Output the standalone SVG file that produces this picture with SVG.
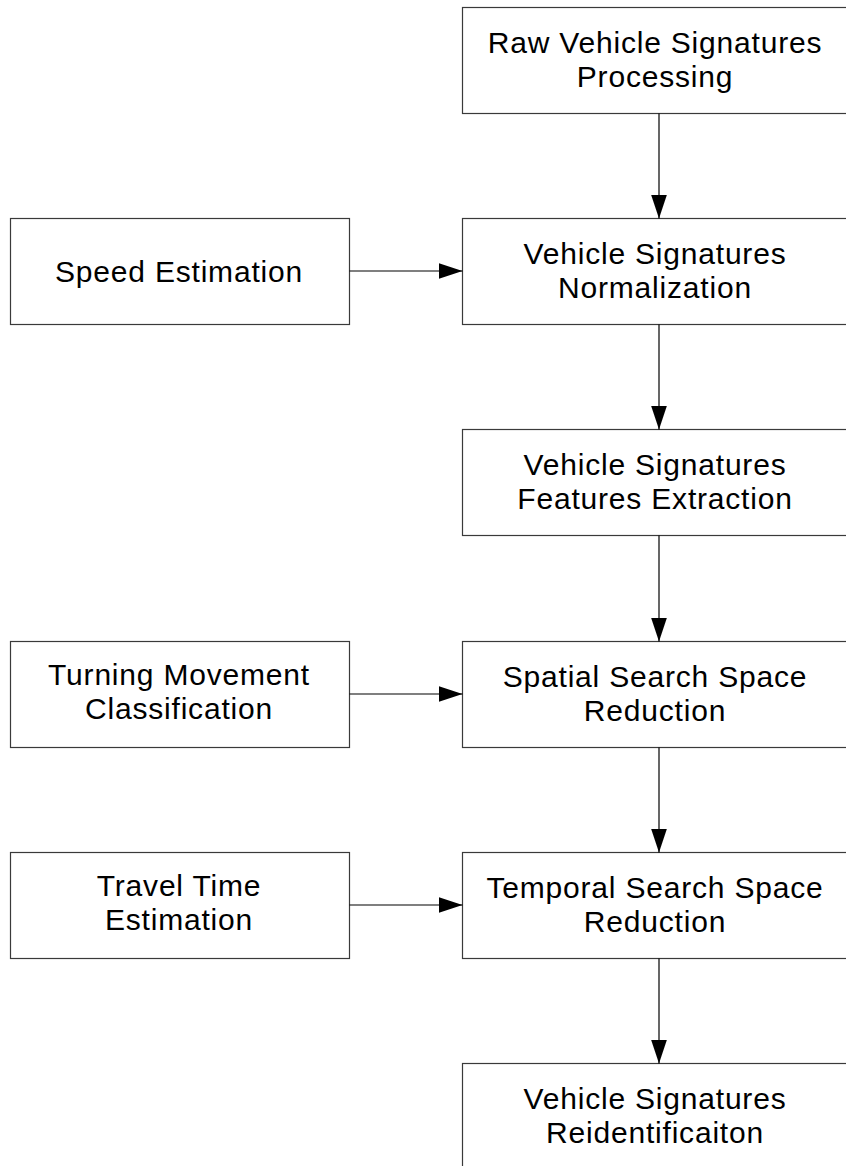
<svg xmlns="http://www.w3.org/2000/svg" width="846" height="1166" viewBox="0 0 846 1166">
  <style>
    .box { fill: #ffffff; stroke: #3a3a3a; stroke-width: 1.2; }
    .lbl { font-family: "Liberation Sans", Arial, sans-serif; font-size: 30px; letter-spacing: 0.8px; fill: #000000; text-anchor: middle; }
    .conn { stroke: #000000; stroke-width: 1.2; fill: none; }
  </style>
  <defs>
    <marker id="arrow" markerWidth="24" markerHeight="16" refX="24" refY="8" orient="auto" markerUnits="userSpaceOnUse">
      <path d="M0,0 L24,8 L0,16 Z" fill="#000000"/>
    </marker>
  </defs>
  <rect width="846" height="1166" fill="#ffffff"/>

  <!-- main pipeline -->
  <g id="raw-processing">
    <rect class="box" x="462.5" y="7.5" width="390" height="106"/>
    <text class="lbl" x="655" y="53">Raw Vehicle Signatures</text>
    <text class="lbl" x="655" y="87">Processing</text>
  </g>
  <g id="normalization">
    <rect class="box" x="462.5" y="218.5" width="390" height="106"/>
    <text class="lbl" x="655" y="264">Vehicle Signatures</text>
    <text class="lbl" x="655" y="298">Normalization</text>
  </g>
  <g id="features-extraction">
    <rect class="box" x="462.5" y="429.5" width="390" height="106"/>
    <text class="lbl" x="655" y="475">Vehicle Signatures</text>
    <text class="lbl" x="655" y="509">Features Extraction</text>
  </g>
  <g id="spatial-reduction">
    <rect class="box" x="462.5" y="641.5" width="390" height="106"/>
    <text class="lbl" x="655" y="687">Spatial Search Space</text>
    <text class="lbl" x="655" y="721">Reduction</text>
  </g>
  <g id="temporal-reduction">
    <rect class="box" x="462.5" y="852.5" width="390" height="106"/>
    <text class="lbl" x="655" y="898">Temporal Search Space</text>
    <text class="lbl" x="655" y="932">Reduction</text>
  </g>
  <g id="reidentification">
    <rect class="box" x="462.5" y="1063.5" width="390" height="106"/>
    <text class="lbl" x="655" y="1109">Vehicle Signatures</text>
    <text class="lbl" x="655" y="1143">Reidentificaiton</text>
  </g>

  <!-- side inputs -->
  <g id="speed-estimation">
    <rect class="box" x="10.5" y="218.5" width="339" height="106"/>
    <text class="lbl" x="179" y="282">Speed Estimation</text>
  </g>
  <g id="turning-movement">
    <rect class="box" x="10.5" y="641.5" width="339" height="106"/>
    <text class="lbl" x="179" y="685">Turning Movement</text>
    <text class="lbl" x="179" y="719">Classification</text>
  </g>
  <g id="travel-time">
    <rect class="box" x="10.5" y="852.5" width="339" height="106"/>
    <text class="lbl" x="179" y="896">Travel Time</text>
    <text class="lbl" x="179" y="930">Estimation</text>
  </g>

  <g id="connectors">
    <line class="conn" x1="659" y1="113.5" x2="659" y2="218.5" marker-end="url(#arrow)"/>
    <line class="conn" x1="659" y1="324.5" x2="659" y2="429.5" marker-end="url(#arrow)"/>
    <line class="conn" x1="659" y1="535.5" x2="659" y2="641.5" marker-end="url(#arrow)"/>
    <line class="conn" x1="659" y1="747.5" x2="659" y2="852.5" marker-end="url(#arrow)"/>
    <line class="conn" x1="659" y1="958.5" x2="659" y2="1063.5" marker-end="url(#arrow)"/>
    <line class="conn" x1="349.5" y1="271" x2="462.5" y2="271" marker-end="url(#arrow)"/>
    <line class="conn" x1="349.5" y1="694" x2="462.5" y2="694" marker-end="url(#arrow)"/>
    <line class="conn" x1="349.5" y1="905" x2="462.5" y2="905" marker-end="url(#arrow)"/>
  </g>
</svg>
